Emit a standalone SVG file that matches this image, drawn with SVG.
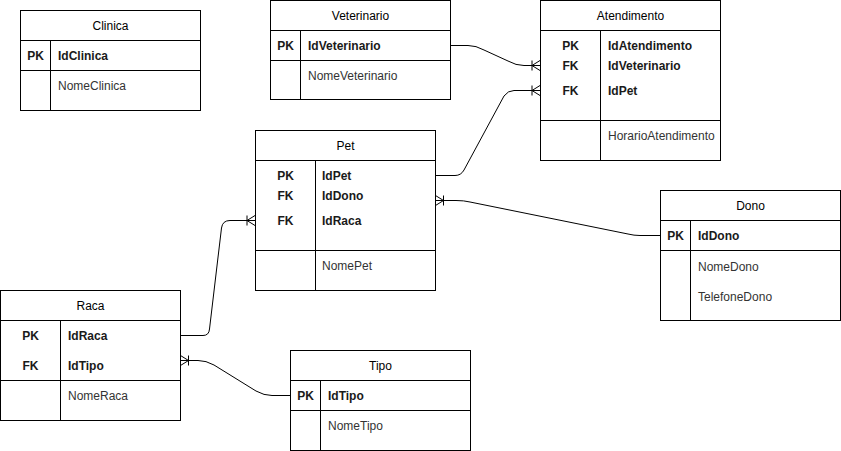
<svg xmlns="http://www.w3.org/2000/svg" width="841" height="451" viewBox="0 0 841 451">
<style>
.box{fill:#fff;stroke:#000;stroke-width:1}
.ln{stroke:#000;stroke-width:1;fill:none}
text{font-family:"Liberation Sans",Arial,sans-serif;font-size:12px;fill:#000}
.h{text-anchor:middle}
.k{font-weight:bold;fill:#1a1a1a}
.kc{font-weight:bold;text-anchor:middle;fill:#1a1a1a}
.a{fill:#333}
.c{fill:none;stroke:#000;stroke-width:1}
</style>
<defs>
<marker id="many" markerWidth="12" markerHeight="12" refX="11" refY="6" orient="auto" markerUnits="userSpaceOnUse">
<path d="M1 6 L11 6 M11 1 L3 6 L11 11 M3 1 L3 11" fill="none" stroke="#000" stroke-width="1"/>
</marker>
</defs>
<g id="connectors">
<path class="c" d="M450.5 45.5 L468 45.5 Q476 45.5 484 50 L508 61 Q516 65.5 524 65.5 L540 65.5" marker-end="url(#many)"/>
<path class="c" d="M435.5 175.5 L455 175.5 Q461 175.5 464 170 L504 96 Q508 90.5 514 90.5 L540 90.5" marker-end="url(#many)"/>
<path class="c" d="M660 235.5 L640 235.5 Q634 235.5 628 234 L470 202 Q464 200.5 456 200.5 L435.5 200.5" marker-end="url(#many)"/>
<path class="c" d="M180.5 335.5 L203 335.5 Q209 335.5 209.5 329 L221.5 228 Q222.5 220.5 230 220.5 L255 220.5" marker-end="url(#many)"/>
<path class="c" d="M290 395.5 L272 395.5 Q264 395.5 256 391 L214 365 Q206 360.5 198 360.5 L180.5 360.5" marker-end="url(#many)"/>
</g>
<g id="clinica">
<rect class="box" x="20.5" y="10.5" width="180" height="100"/>
<path class="ln" d="M20.5 40.5 H200.5 M20.5 70.5 H200.5 M50.5 40.5 V110.5"/>
<text class="h" x="110.5" y="30">Clinica</text>
<text class="kc" x="35.5" y="60">PK</text>
<text class="k" x="58" y="60">IdClinica</text>
<text class="a" x="58" y="90">NomeClinica</text>
</g>
<g id="veterinario">
<rect class="box" x="270.5" y="0.5" width="180" height="99"/>
<path class="ln" d="M270.5 30.5 H450.5 M270.5 60.5 H450.5 M300.5 30.5 V99.5"/>
<text class="h" x="360.5" y="20">Veterinario</text>
<text class="kc" x="285.5" y="50">PK</text>
<text class="k" x="308" y="50">IdVeterinario</text>
<text class="a" x="308" y="80">NomeVeterinario</text>
</g>
<g id="atendimento">
<rect class="box" x="540.5" y="0.5" width="180" height="160"/>
<path class="ln" d="M540.5 30.5 H720.5 M540.5 120.5 H720.5 M600.5 30.5 V160.5"/>
<text class="h" x="630.5" y="20">Atendimento</text>
<text class="kc" x="570.5" y="50">PK</text>
<text class="kc" x="570.5" y="70">FK</text>
<text class="kc" x="570.5" y="95">FK</text>
<text class="k" x="608" y="50">IdAtendimento</text>
<text class="k" x="608" y="70">IdVeterinario</text>
<text class="k" x="608" y="95">IdPet</text>
<text class="a" x="608" y="140">HorarioAtendimento</text>
</g>
<g id="pet">
<rect class="box" x="255.5" y="130.5" width="180" height="160"/>
<path class="ln" d="M255.5 160.5 H435.5 M255.5 250.5 H435.5 M315.5 160.5 V290.5"/>
<text class="h" x="345.5" y="150">Pet</text>
<text class="kc" x="285.5" y="180">PK</text>
<text class="kc" x="285.5" y="200">FK</text>
<text class="kc" x="285.5" y="225">FK</text>
<text class="k" x="322" y="180">IdPet</text>
<text class="k" x="322" y="200">IdDono</text>
<text class="k" x="322" y="225">IdRaca</text>
<text class="a" x="322" y="270">NomePet</text>
</g>
<g id="dono">
<rect class="box" x="660.5" y="190.5" width="180" height="130"/>
<path class="ln" d="M660.5 220.5 H840.5 M660.5 250.5 H840.5 M690.5 220.5 V320.5"/>
<text class="h" x="750.5" y="210">Dono</text>
<text class="kc" x="675.5" y="240">PK</text>
<text class="k" x="698" y="240">IdDono</text>
<text class="a" x="698" y="271">NomeDono</text>
<text class="a" x="698" y="301">TelefoneDono</text>
</g>
<g id="raca">
<rect class="box" x="0.5" y="290.5" width="180" height="130"/>
<path class="ln" d="M0.5 320.5 H180.5 M0.5 380.5 H180.5 M60.5 320.5 V420.5"/>
<text class="h" x="90.5" y="310">Raca</text>
<text class="kc" x="30.5" y="340">PK</text>
<text class="kc" x="30.5" y="370">FK</text>
<text class="k" x="68" y="340">IdRaca</text>
<text class="k" x="68" y="370">IdTipo</text>
<text class="a" x="68" y="400">NomeRaca</text>
</g>
<g id="tipo">
<rect class="box" x="290.5" y="350.5" width="180" height="100"/>
<path class="ln" d="M290.5 380.5 H470.5 M290.5 410.5 H470.5 M320.5 380.5 V450.5"/>
<text class="h" x="380.5" y="370">Tipo</text>
<text class="kc" x="305.5" y="400">PK</text>
<text class="k" x="328" y="400">IdTipo</text>
<text class="a" x="328" y="430">NomeTipo</text>
</g>
</svg>
